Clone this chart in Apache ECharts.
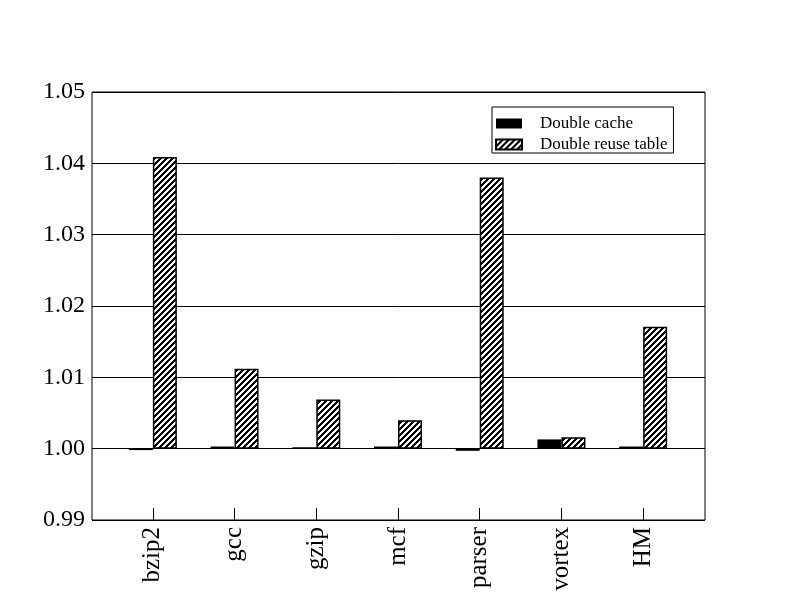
<!DOCTYPE html>
<html>
<head>
<meta charset="utf-8">
<script src="https://cdn.jsdelivr.net/npm/echarts@6/dist/echarts.min.js"></script>
<style>
  html, body { margin: 0; padding: 0; background: #fff; }
  #chart { width: 792px; height: 612px; }
</style>
</head>
<body>
<div id="chart"></div>
<script>
const categories = ['bzip2', 'gcc', 'gzip', 'mcf', 'parser', 'vortex', 'HM']
const doubleCache = [0.9998, 1.0003, 1.0002, 1.0003, 0.9997, 1.0013, 1.0003]
const doubleReuse = [1.0409, 1.0112, 1.0069, 1.0040, 1.0380, 1.0016, 1.0171]
const baseline = 1.0

// crisp diagonal hatch (/) for the reuse-table bars
function hatch() {
  const n = 6
  const c = document.createElement('canvas')
  c.width = n
  c.height = n
  const ctx = c.getContext('2d')
  ctx.fillStyle = '#fff'
  ctx.fillRect(0, 0, n, n)
  ctx.fillStyle = '#000'
  for (let y = 0; y < n; y++) {
    for (let k = 0; k < 3; k++) {
      ctx.fillRect((n - 1 - y + k) % n, y, 1, 1)
    }
  }
  return c
}

const font = 'Liberation Serif'
const chart = echarts.init(document.getElementById('chart'), null, { renderer: 'canvas' })
const yRange = { min: -0.01, max: 0.05, interval: 0.01 }

chart.setOption({
  animation: false,
  backgroundColor: '#fff',
  textStyle: { fontFamily: font, color: '#000' },
  grid: [
    { left: 92, right: 87, top: 92, bottom: 92, show: true, borderColor: '#000', borderWidth: 1, backgroundColor: 'transparent' },
    { left: 112, right: 108, top: 92, bottom: 92 }
  ],
  legend: {
    data: ['Double cache', 'Double reuse table'],
    orient: 'vertical',
    left: 492,
    top: 107,
    padding: [8, 6, 0, 3],
    itemGap: 4,
    itemWidth: 26,
    itemHeight: 10,
    icon: 'rect',
    borderColor: '#000',
    borderWidth: 1,
    textStyle: { fontFamily: font, fontSize: 17, color: '#000', padding: [0, 0, 0, 13] }
  },
  xAxis: [
    { type: 'value', gridIndex: 0, show: false, min: 0, max: 1 },
    {
      type: 'category',
      gridIndex: 1,
      position: 'bottom',
      data: categories,
      axisLine: { show: true, onZero: false, lineStyle: { color: '#000', width: 1 } },
      axisTick: { show: true, inside: true, length: 12, alignWithLabel: true, lineStyle: { color: '#000', width: 1 } },
      axisLabel: { rotate: 90, fontSize: 25, fontFamily: font, color: '#000', margin: 7 }
    }
  ],
  yAxis: [
    {
      type: 'value',
      gridIndex: 0,
      ...yRange,
      axisLine: { show: false },
      axisTick: { show: false },
      splitLine: { lineStyle: { color: '#000', width: 1 } },
      axisLabel: {
        fontSize: 24,
        fontFamily: font,
        color: '#000',
        margin: 7,
        formatter: v => (baseline + v).toFixed(2)
      }
    },
    { type: 'value', gridIndex: 1, ...yRange, show: false }
  ],
  series: [
    {
      name: 'Double cache',
      type: 'bar',
      xAxisIndex: 1,
      yAxisIndex: 1,
      barWidth: 24,
      barGap: '0%',
      itemStyle: { color: '#000' },
      data: doubleCache.map(v => v - baseline)
    },
    {
      name: 'Double reuse table',
      type: 'bar',
      xAxisIndex: 1,
      yAxisIndex: 1,
      barWidth: 24,
      barGap: '0%',
      itemStyle: { color: { image: hatch(), repeat: 'repeat' }, borderColor: '#000', borderWidth: 1.5 },
      data: doubleReuse.map(v => v - baseline)
    }
  ]
})
</script>
</body>
</html>
